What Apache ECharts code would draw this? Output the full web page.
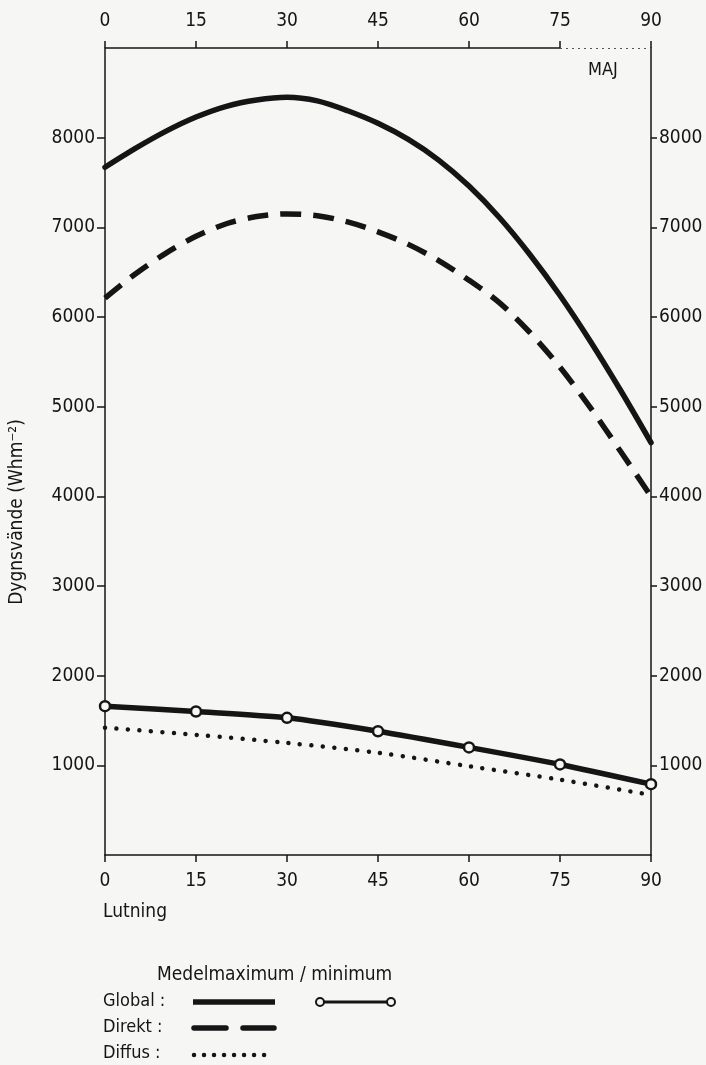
<!DOCTYPE html>
<html>
<head>
<meta charset="utf-8">
<script src="https://cdn.jsdelivr.net/npm/echarts@6/dist/echarts.min.js"></script>
<style>
  html, body { margin: 0; padding: 0; background: #f6f6f4; }
  #chart { width: 706px; height: 1065px; }
</style>
</head>
<body>
<div id="chart"></div>
<script>
// Lutning (degrees) and daily totals
const angles = [0, 5, 10, 15, 20, 25, 30, 35, 40, 45, 50, 55, 60, 65, 70, 75, 80, 85, 90];
const globalMax = [7670, 7880, 8070, 8230, 8350, 8420, 8450, 8410, 8300, 8160, 7980, 7750, 7460, 7110, 6700, 6240, 5730, 5180, 4600];
const direktMax = [6210, 6480, 6710, 6900, 7040, 7120, 7150, 7130, 7060, 6950, 6810, 6630, 6410, 6160, 5830, 5440, 4990, 4500, 4000];

const minAngles = [0, 15, 30, 45, 60, 75, 90];
const globalMin = [1660, 1600, 1530, 1380, 1200, 1010, 790];
const diffus = [1420, 1340, 1250, 1140, 990, 840, 670];

const xTicks = [0, 15, 30, 45, 60, 75, 90];
const yTicks = [1000, 2000, 3000, 4000, 5000, 6000, 7000, 8000];

const FONT = "'DejaVu Sans Condensed', 'Liberation Sans Narrow', 'DejaVu Sans', sans-serif";
const INK = '#151515';
const BG = '#f6f6f4';

const chart = echarts.init(document.getElementById('chart'));

const pairs = (xs, ys) => xs.map((x, i) => [x, ys[i]]);

function xAxisDef(pos, showLine) {
    return {
        type: 'value',
        position: pos,
        min: 0, max: 90, interval: 15,
        axisLine: { show: showLine, onZero: false, lineStyle: { color: INK, width: 1.5 } },
        axisTick: { show: true, length: 7, customValues: xTicks, lineStyle: { color: INK, width: 1.5 } },
        axisLabel: { customValues: xTicks, margin: 17, fontSize: 19, color: INK, fontFamily: FONT },
        splitLine: { show: false }
    };
}

function yAxisDef(pos) {
    return {
        type: 'value',
        position: pos,
        min: 0, max: 9000, interval: 1000,
        axisLine: { show: true, onZero: false, lineStyle: { color: INK, width: 1.5 } },
        axisTick: { show: true, length: pos === 'left' ? 8 : 6, customValues: yTicks, lineStyle: { color: INK, width: 1.5 } },
        axisLabel: {
            customValues: yTicks,
            formatter: v => String(v),
            margin: pos === 'left' ? 10 : 8,
            fontSize: 19, color: INK, fontFamily: FONT
        },
        splitLine: { show: false }
    };
}

const option = {
    backgroundColor: BG,
    animation: false,
    grid: { left: 105, right: 55, top: 48, bottom: 210 },
    xAxis: [xAxisDef('bottom', true), xAxisDef('top', false)],
    yAxis: [yAxisDef('left'), yAxisDef('right')],
    series: [
        {
            name: 'Global max',
            type: 'line',
            data: pairs(angles, globalMax),
            smooth: 0.3,
            showSymbol: false,
            lineStyle: { color: INK, width: 5.5, cap: 'round' },
            // top frame: solid up to 75, dotted to 90
            markLine: {
                silent: true,
                symbol: 'none',
                label: { show: false },
                data: [
                    [{ coord: [0, 9000], lineStyle: { type: 'solid', width: 1.5, color: INK } }, { coord: [75, 9000] }],
                    [{ coord: [75, 9000], lineStyle: { type: [2, 4], width: 1.2, color: '#555' } }, { coord: [90, 9000] }]
                ]
            }
        },
        {
            name: 'Direkt max',
            type: 'line',
            data: pairs(angles, direktMax),
            smooth: 0.3,
            showSymbol: false,
            lineStyle: { color: INK, width: 5.5, type: [21, 12] }
        },
        {
            name: 'Diffus',
            type: 'line',
            data: pairs(minAngles, diffus),
            smooth: 0.3,
            showSymbol: false,
            lineStyle: { color: INK, width: 4.5, type: [0.01, 11.5], cap: 'round' }
        },
        {
            name: 'Global min',
            type: 'line',
            data: pairs(minAngles, globalMin),
            smooth: 0.25,
            symbol: 'circle',
            symbolSize: 10,
            itemStyle: { color: BG, borderColor: INK, borderWidth: 2.5 },
            lineStyle: { color: INK, width: 5.5 },
            z: 3
        }
    ],
    graphic: [
        { type: 'text', x: 17, y: 512, rotation: Math.PI / 2,
          style: { text: 'Dygnsvände (Whm⁻²)', font: '19px ' + FONT, fill: INK, align: 'center', verticalAlign: 'middle' } },
        { type: 'text', style: { x: 103, y: 912, text: 'Lutning', font: '19px ' + FONT, fill: INK, verticalAlign: 'middle' } },
        { type: 'text', style: { x: 588, y: 70, text: 'MAJ', font: '18px ' + FONT, fill: INK, verticalAlign: 'middle' } },
        { type: 'text', style: { x: 157, y: 975, text: 'Medelmaximum / minimum', font: '19px ' + FONT, fill: INK, verticalAlign: 'middle' } },
        { type: 'text', style: { x: 103, y: 1001, text: 'Global :', font: '18px ' + FONT, fill: INK, verticalAlign: 'middle' } },
        { type: 'text', style: { x: 103, y: 1027, text: 'Direkt :', font: '18px ' + FONT, fill: INK, verticalAlign: 'middle' } },
        { type: 'text', style: { x: 103, y: 1053, text: 'Diffus :', font: '18px ' + FONT, fill: INK, verticalAlign: 'middle' } },
        { type: 'line', shape: { x1: 193, y1: 1002, x2: 275, y2: 1002 }, style: { stroke: INK, lineWidth: 5.5 } },
        { type: 'line', shape: { x1: 320, y1: 1002, x2: 391, y2: 1002 }, style: { stroke: INK, lineWidth: 3 } },
        { type: 'circle', shape: { cx: 320, cy: 1002, r: 4 }, style: { fill: BG, stroke: INK, lineWidth: 2 } },
        { type: 'circle', shape: { cx: 391, cy: 1002, r: 4 }, style: { fill: BG, stroke: INK, lineWidth: 2 } },
        { type: 'line', shape: { x1: 194, y1: 1028, x2: 226, y2: 1028 }, style: { stroke: INK, lineWidth: 5.5, lineCap: 'round' } },
        { type: 'line', shape: { x1: 243, y1: 1028, x2: 274, y2: 1028 }, style: { stroke: INK, lineWidth: 5.5, lineCap: 'round' } },
        { type: 'line', shape: { x1: 194, y1: 1055, x2: 274, y2: 1055 }, style: { stroke: INK, lineWidth: 4.5, lineCap: 'round', lineDash: [0.01, 10] } }
    ]
};

chart.setOption(option);
</script>
</body>
</html>
